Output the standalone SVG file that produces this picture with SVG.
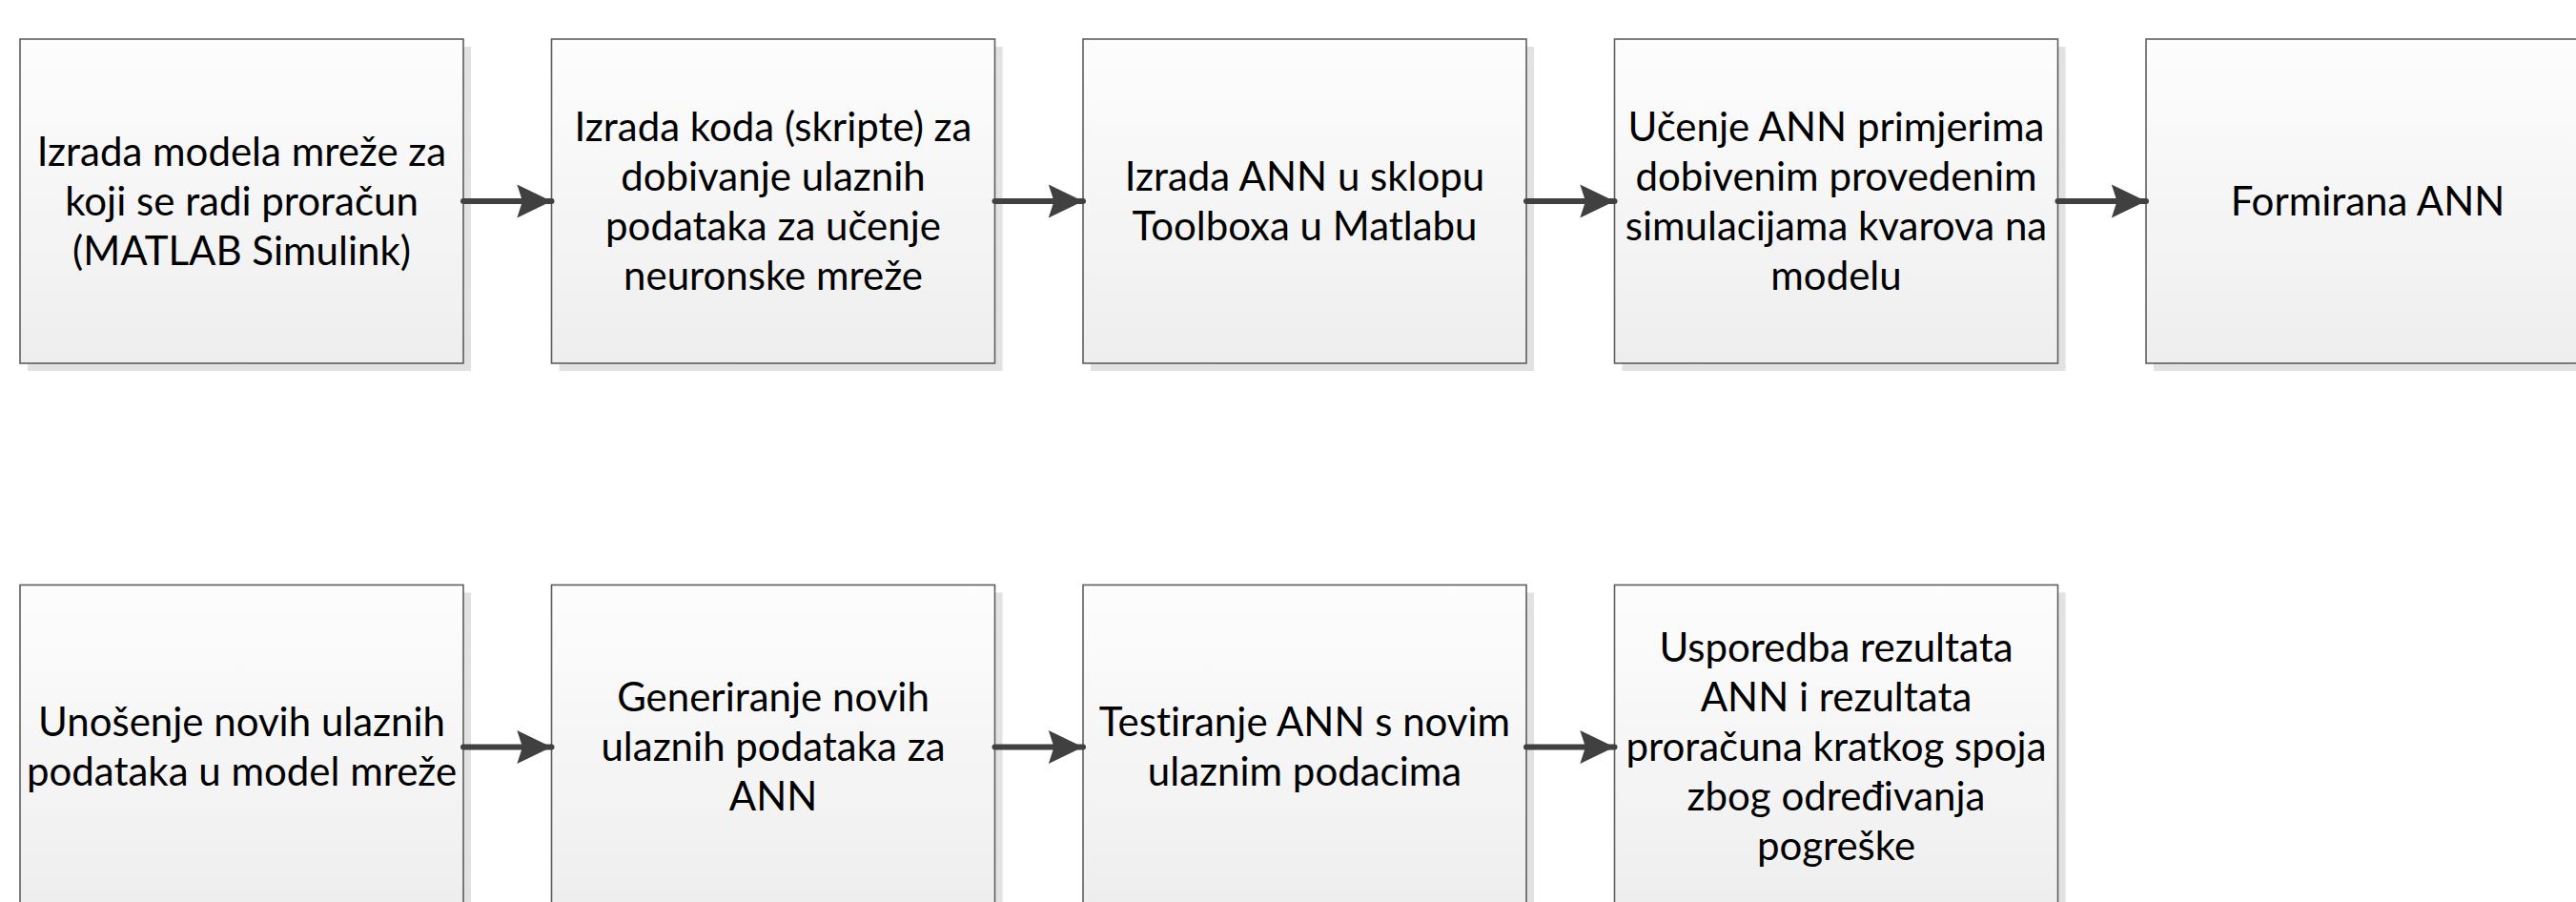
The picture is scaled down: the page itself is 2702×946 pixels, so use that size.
<svg xmlns="http://www.w3.org/2000/svg" width="2702" height="946" viewBox="0 0 2702 946">
<defs>
<linearGradient id="g" x1="0" y1="0" x2="0" y2="1">
<stop offset="0" stop-color="#fdfdfd"/>
<stop offset="1" stop-color="#eeeeee"/>
</linearGradient>
<marker id="ah" markerUnits="userSpaceOnUse" markerWidth="40" markerHeight="40" viewBox="-40 -20 42 40" refX="0" refY="0" orient="auto">
<path d="M0,0 L-38,-18.5 L-32,0 L-38,18.5 Z" fill="#404040"/>
</marker>
</defs>
<style>
.sh{fill:#e2e2e2}
.bx{fill:url(#g);stroke:#5e5e5e;stroke-width:1.6}
.t{font-family:"Lato","Liberation Sans",sans-serif;font-size:42px;fill:#000;text-anchor:middle;font-variant-ligatures:none}
.c{stroke:#404040;stroke-width:6;stroke-linecap:round;fill:none;marker-end:url(#ah)}
</style>
<rect width="2702" height="946" fill="#fff"/>
<g id="n1"><rect class="sh" x="29" y="49" width="465" height="340"/><rect class="bx" x="21" y="41" width="465" height="340"/>
<text class="t" x="253.5" y="174">Izrada modela mreže za</text><text class="t" x="253.5" y="226">koji se radi proračun</text><text class="t" x="253.5" y="278">(MATLAB Simulink)</text></g>
<g id="n2"><rect class="sh" x="586.5" y="49" width="465" height="340"/><rect class="bx" x="578.5" y="41" width="465" height="340"/>
<text class="t" x="811" y="148">Izrada koda (skripte) za</text><text class="t" x="811" y="200">dobivanje ulaznih</text><text class="t" x="811" y="252">podataka za učenje</text><text class="t" x="811" y="304">neuronske mreže</text></g>
<g id="n3"><rect class="sh" x="1144" y="49" width="465" height="340"/><rect class="bx" x="1136" y="41" width="465" height="340"/>
<text class="t" x="1368.5" y="200">Izrada ANN u sklopu</text><text class="t" x="1368.5" y="252">Toolboxa u Matlabu</text></g>
<g id="n4"><rect class="sh" x="1701.5" y="49" width="465" height="340"/><rect class="bx" x="1693.5" y="41" width="465" height="340"/>
<text class="t" x="1926" y="148">Učenje ANN primjerima</text><text class="t" x="1926" y="200">dobivenim provedenim</text><text class="t" x="1926" y="252">simulacijama kvarova na</text><text class="t" x="1926" y="304">modelu</text></g>
<g id="n5"><rect class="sh" x="2259" y="49" width="465" height="340"/><rect class="bx" x="2251" y="41" width="465" height="340"/>
<text class="t" x="2483.5" y="226">Formirana ANN</text></g>
<g id="n6"><rect class="sh" x="29" y="621.5" width="465" height="340"/><rect class="bx" x="21" y="613.5" width="465" height="340"/>
<text class="t" x="253.5" y="772">Unošenje novih ulaznih</text><text class="t" x="253.5" y="824">podataka u model mreže</text></g>
<g id="n7"><rect class="sh" x="586.5" y="621.5" width="465" height="340"/><rect class="bx" x="578.5" y="613.5" width="465" height="340"/>
<text class="t" x="811" y="746">Generiranje novih</text><text class="t" x="811" y="798">ulaznih podataka za</text><text class="t" x="811" y="850">ANN</text></g>
<g id="n8"><rect class="sh" x="1144" y="621.5" width="465" height="340"/><rect class="bx" x="1136" y="613.5" width="465" height="340"/>
<text class="t" x="1368.5" y="772">Testiranje ANN s novim</text><text class="t" x="1368.5" y="824">ulaznim podacima</text></g>
<g id="n9"><rect class="sh" x="1701.5" y="621.5" width="465" height="340"/><rect class="bx" x="1693.5" y="613.5" width="465" height="340"/>
<text class="t" x="1926" y="694">Usporedba rezultata</text><text class="t" x="1926" y="746">ANN i rezultata</text><text class="t" x="1926" y="798">proračuna kratkog spoja</text><text class="t" x="1926" y="850">zbog određivanja</text><text class="t" x="1926" y="902">pogreške</text></g>
<g id="connectors">
<path class="c" d="M486,211 H578.5"/>
<path class="c" d="M1043.5,211 H1136"/>
<path class="c" d="M1601,211 H1693.5"/>
<path class="c" d="M2158.5,211 H2251"/>
<path class="c" d="M486,783.5 H578.5"/>
<path class="c" d="M1043.5,783.5 H1136"/>
<path class="c" d="M1601,783.5 H1693.5"/>
</g>
</svg>
